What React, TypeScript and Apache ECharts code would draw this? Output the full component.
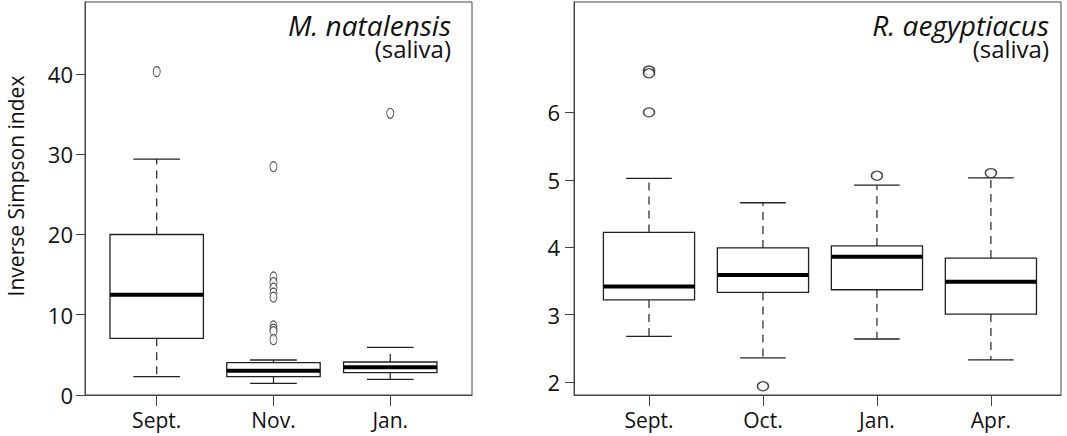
import React, { useEffect, useRef } from "react";
import * as echarts from "echarts";

// ---- data ----
const leftCategories = ["Sept.", "Nov.", "Jan."];
// [min whisker, Q1, median, Q3, max whisker]
const leftBoxes = [
  [2.28, 7.06, 12.5, 20.0, 29.4],
  [1.45, 2.28, 3.03, 4.03, 4.36],
  [1.95, 2.78, 3.45, 4.11, 5.94],
];
// [category index (1-based), value]
const leftOutliers = [
  [1, 40.3],
  [2, 28.45],
  [2, 14.7],
  [2, 14.0],
  [2, 13.3],
  [2, 12.7],
  [2, 12.2],
  [2, 8.6],
  [2, 8.2],
  [2, 7.9],
  [2, 6.9],
  [3, 35.1],
];
const leftYTicks = [0, 10, 20, 30, 40];

const rightCategories = ["Sept.", "Oct.", "Jan.", "Apr."];
const rightBoxes = [
  [2.68, 3.22, 3.42, 4.22, 5.02],
  [2.36, 3.33, 3.59, 3.99, 4.66],
  [2.64, 3.37, 3.86, 4.02, 4.92],
  [2.33, 3.01, 3.49, 3.84, 5.03],
];
const rightOutliers = [
  [1, 6.62],
  [1, 6.58],
  [1, 6.0],
  [2, 1.94],
  [3, 5.06],
  [4, 5.1],
];
const rightYTicks = [2, 3, 4, 5, 6];

const FONT = "'Open Sans', 'Noto Sans', sans-serif";
const FRAME = "#444";

function boxRender(params: any, api: any) {
  const x = api.value(0);
  const mn = api.value(1);
  const q1 = api.value(2);
  const md = api.value(3);
  const q3 = api.value(4);
  const mx = api.value(5);
  const hw = 0.4;
  const cw = 0.2;
  const c = (a: number, b: number) => api.coord([a, b]);
  const tl = c(x - hw, q3);
  const br = c(x + hw, q1);
  const w1 = c(x, q3);
  const w2 = c(x, mx);
  const w3 = c(x, q1);
  const w4 = c(x, mn);
  const capT1 = c(x - cw, mx);
  const capT2 = c(x + cw, mx);
  const capB1 = c(x - cw, mn);
  const capB2 = c(x + cw, mn);
  const m1 = c(x - hw, md);
  const m2 = c(x + hw, md);
  const dash = { stroke: "#222", lineWidth: 1.2, lineDash: [8, 6] };
  const solid = { stroke: "#222", lineWidth: 1.3 };
  return {
    type: "group",
    children: [
      { type: "line", shape: { x1: w1[0], y1: w1[1], x2: w2[0], y2: w2[1] }, style: dash },
      { type: "line", shape: { x1: w3[0], y1: w3[1], x2: w4[0], y2: w4[1] }, style: dash },
      { type: "line", shape: { x1: capT1[0], y1: capT1[1], x2: capT2[0], y2: capT2[1] }, style: solid },
      { type: "line", shape: { x1: capB1[0], y1: capB1[1], x2: capB2[0], y2: capB2[1] }, style: solid },
      {
        type: "rect",
        shape: { x: tl[0], y: tl[1], width: br[0] - tl[0], height: br[1] - tl[1] },
        style: { fill: "#fff", stroke: "#222", lineWidth: 1.3 },
      },
      { type: "line", shape: { x1: m1[0], y1: m1[1], x2: m2[0], y2: m2[1] }, style: { stroke: "#000", lineWidth: 4 } },
    ],
  };
}

function xAxisCfg(grid: number, cats: string[], min: number, max: number) {
  const vals = cats.map((_, i) => i + 1);
  return {
    gridIndex: grid,
    type: "value",
    min,
    max,
    axisLine: { show: true, onZero: false, lineStyle: { color: FRAME, width: 1 } },
    axisTick: { show: true, customValues: vals, length: 11, lineStyle: { color: FRAME, width: 1 } },
    axisLabel: {
      show: true,
      customValues: vals,
      formatter: (v: number) => cats[Math.round(v) - 1] ?? "",
      margin: 14,
      fontSize: 21,
      fontFamily: FONT,
      color: "#111",
    },
    splitLine: { show: false },
  };
}

function yAxisCfg(grid: number, ticks: number[], min: number, max: number, margin: number) {
  return {
    gridIndex: grid,
    type: "value",
    min,
    max,
    axisLine: { show: true, onZero: false, lineStyle: { color: FRAME, width: 1 } },
    axisTick: { show: true, customValues: ticks, length: 9, lineStyle: { color: FRAME, width: 1 } },
    axisLabel: {
      show: true,
      customValues: ticks,
      margin,
      fontSize: 22,
      fontFamily: FONT,
      color: "#111",
    },
    splitLine: { show: false },
  };
}

const panelTitle = (species: string, tissue: string) => ({
  text: `{t|${species}}\n{s|${tissue}}`,
  fill: "#111",
  fontFamily: FONT,
  align: "right",
  verticalAlign: "top",
  textAlign: "right",
  textVerticalAlign: "top",
  rich: {
    t: { fontSize: 28, lineHeight: 25, fontStyle: "italic", fontFamily: FONT, fill: "#111", color: "#111", align: "right" },
    s: { fontSize: 24, lineHeight: 22, fontFamily: FONT, fill: "#111", color: "#111", align: "right" },
  },
});

export default function App() {
  const ref = useRef<HTMLDivElement>(null);
  useEffect(() => {
    if (!ref.current) return;
    const chart = echarts.init(ref.current, undefined, { renderer: "svg" });
    const option: any = {
      animation: false,
      backgroundColor: "#fff",
      grid: [
        {
          left: 85, top: 2, width: 387, height: 393,
          show: true, borderColor: FRAME, borderWidth: 1, backgroundColor: "transparent",
          containLabel: false, outerBoundsMode: "none",
        },
        {
          left: 574, top: 2, width: 487, height: 393,
          show: true, borderColor: FRAME, borderWidth: 1, backgroundColor: "transparent",
          containLabel: false, outerBoundsMode: "none",
        },
      ],
      xAxis: [
        xAxisCfg(0, leftCategories, 0.386, 3.7),
        xAxisCfg(1, rightCategories, 0.342, 4.615),
      ],
      yAxis: [
        yAxisCfg(0, leftYTicks, 0, 48.97, 12),
        yAxisCfg(1, rightYTicks, 1.81, 7.636, 14),
      ],
      series: [
        {
          type: "custom",
          xAxisIndex: 0,
          yAxisIndex: 0,
          renderItem: boxRender,
          encode: { x: 0, y: [1, 2, 3, 4, 5] },
          data: leftBoxes.map((b, i) => [i + 1, ...b]),
          z: 2,
        },
        {
          type: "scatter",
          xAxisIndex: 0,
          yAxisIndex: 0,
          symbol: "circle",
          symbolSize: [7, 10],
          itemStyle: { color: "#fff", borderColor: "#222", borderWidth: 1 },
          data: leftOutliers,
          z: 3,
        },
        {
          type: "custom",
          xAxisIndex: 1,
          yAxisIndex: 1,
          renderItem: boxRender,
          encode: { x: 0, y: [1, 2, 3, 4, 5] },
          data: rightBoxes.map((b, i) => [i + 1, ...b]),
          z: 2,
        },
        {
          type: "scatter",
          xAxisIndex: 1,
          yAxisIndex: 1,
          symbol: "circle",
          symbolSize: [11, 9],
          itemStyle: { color: "#fff", borderColor: "#222", borderWidth: 1.4 },
          data: rightOutliers,
          z: 3,
        },
      ],
      graphic: [
        { type: "text", x: 451, y: 12, style: panelTitle("M. natalensis", "(saliva)") },
        { type: "text", x: 1049, y: 12, style: panelTitle("R. aegyptiacus", "(saliva)") },
        {
          type: "text", x: 16, y: 186, rotation: Math.PI / 2,
          style: {
            text: "Inverse Simpson index", fill: "#111", fontSize: 21, fontFamily: FONT,
            align: "center", verticalAlign: "middle", textAlign: "center", textVerticalAlign: "middle",
          },
        },
      ],
    };
    chart.setOption(option);
    return () => chart.dispose();
  }, []);
  return (
    <div
      ref={ref}
      style={{ position: "fixed", left: 0, top: 0, width: 1067, height: 436, background: "#fff" }}
    />
  );
}
